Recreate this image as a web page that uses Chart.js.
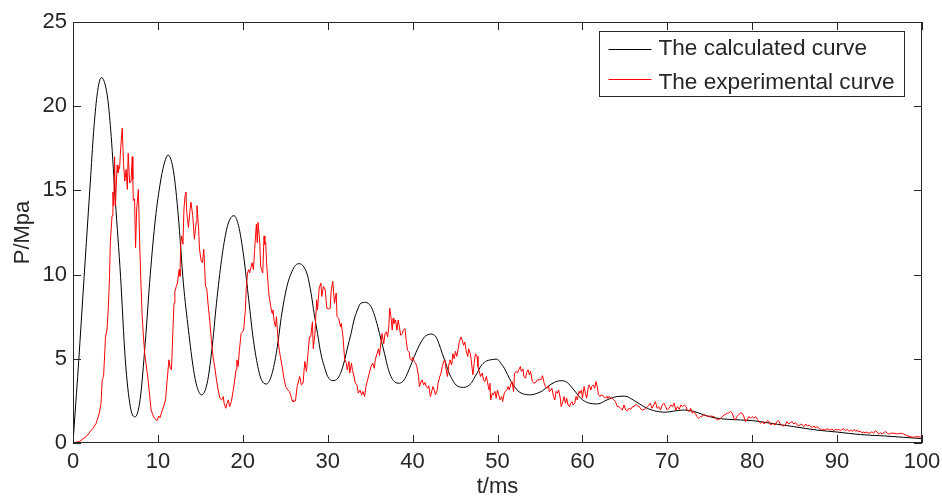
<!DOCTYPE html>
<html lang="en">
<head>
  <meta charset="UTF-8">
  <title>P/Mpa - t/ms</title>
  <script src="https://cdn.jsdelivr.net/npm/chart.js"></script>
  <style>
    body {
      margin: 0;
      background: #fff;
    }
    #wrap {
      width: 942px;
      height: 498px;
    }
  </style>
</head>
<body>
  <div id="wrap"><canvas id="pressureChart" width="942" height="498"></canvas></div>

  <script>
    const seriesNames = ['The calculated curve', 'The experimental curve'];

    // calculated pressure (smooth damped oscillation)
    const calcTime = [
      0, 0.27, 0.55, 1.06, 1.57, 2.04, 2.43, 2.82, 3.1, 3.35,
      3.65, 4.1, 4.5, 5.0, 5.6, 6.16, 6.75, 7.3, 7.9, 8.5,
      9.1, 9.7, 10.3, 10.7, 11.2, 11.85, 12.4, 13.0, 13.6, 14.2,
      14.6, 15.15, 15.8, 16.35, 16.9, 17.5, 18.1, 18.5, 18.95, 19.5,
      20.1, 20.7, 21.25, 21.85, 22.2, 22.75, 23.4, 24.0, 24.6, 25.2,
      25.8, 26.2, 26.65, 27.2, 27.65, 28.04, 28.4, 28.8, 29.2, 29.6,
      30.0, 30.6, 31.2, 31.6, 32.0, 32.35, 32.75, 33.1, 33.5, 33.9,
      34.45, 35.1, 35.5, 35.9, 36.3, 36.7, 37.05, 37.45, 37.85, 38.45,
      39.0, 39.4, 39.8, 40.2, 40.6, 41.0, 41.4, 41.8, 42.2, 42.75,
      43.1, 43.5, 43.9, 44.3, 44.7, 45.1, 46.0, 46.9, 47.25, 47.65,
      48.0, 48.6, 49.2, 49.9, 50.4, 50.8, 51.2, 51.6, 52.0, 52.4,
      52.9, 53.9, 54.7, 55.3, 55.9, 56.7, 57.5, 58.2, 59.0, 59.8,
      60.6, 61.8, 62.9, 64.1, 65.0, 66.1, 67.25, 68.4, 69.8, 70.8,
      71.9, 73.1, 74.3, 75.5, 77.3, 80, 82.2, 84.9, 87.6, 90,
      92.75, 95.5, 97.8, 100
    ];
    const calcPressure = [
      0, 1.96, 3.95, 7.9, 11.9, 15.5, 18.5, 20.6, 21.45, 21.7,
      21.5, 20.4, 18.2, 14.3, 9.9, 4.94, 2.16, 1.55, 2.56, 5.9,
      10.0, 13.3, 15.5, 16.5, 17.1, 16.1, 13.5, 9.5, 6.7, 4.35,
      3.35, 2.86, 3.55, 5.5, 8.3, 10.9, 12.7, 13.3, 13.5, 12.9,
      11.1, 8.5, 6.1, 4.35, 3.75, 3.5, 4.05, 5.5, 7.7, 9.3,
      10.2, 10.55, 10.65, 10.45, 9.9, 8.9, 7.7, 6.5, 5.3, 4.54,
      3.95, 3.7, 3.85, 4.25, 4.94, 5.7, 6.5, 7.3, 7.9, 8.3,
      8.35, 8.1, 7.6, 6.9, 6.1, 5.3, 4.54, 3.95, 3.65, 3.55,
      3.75, 4.15, 4.64, 5.14, 5.6, 6.0, 6.3, 6.43, 6.47, 6.3,
      5.9, 5.3, 4.74, 4.15, 3.75, 3.45, 3.3, 3.55, 3.85, 4.2,
      4.54, 4.84, 4.94, 4.98, 4.74, 4.44, 4.05, 3.65, 3.35, 3.1,
      2.94, 2.86, 2.96, 3.1, 3.35, 3.6, 3.7, 3.6, 3.15, 2.66,
      2.4, 2.32, 2.56, 2.76, 2.78, 2.52, 2.16, 1.92, 1.83, 1.9,
      1.96, 1.88, 1.67, 1.5, 1.4, 1.33, 1.17, 0.97, 0.77, 0.65,
      0.5, 0.42, 0.34, 0.26
    ];

    // measured pressure (noisy)
    const expTime = [
      0, 0.8, 1.55, 2.34, 2.73, 3.1, 3.3, 3.44, 3.6, 3.83, 4.0, 4.15, 4.3, 4.4, 4.6, 4.7, 4.8, 4.9, 5.0, 5.2,
      5.3, 5.5, 5.6, 5.8, 5.95, 6.1, 6.25, 6.4, 6.5, 6.67, 6.83, 6.98, 7.05, 7.1, 7.25, 7.37, 7.5, 7.7, 7.85, 8.0,
      8.15, 8.3, 8.45, 8.6, 8.8, 9.0, 9.2, 9.4, 9.6, 9.9,
      10.1, 10.25, 10.4, 10.7, 10.9, 11.06, 11.3, 11.46, 11.6, 11.77, 11.9, 12.0, 12.17, 12.3, 12.5, 12.6, 12.7, 12.8, 12.95, 13.07,
      13.2, 13.3, 13.4, 13.6, 13.8, 13.9, 14.1, 14.3, 14.5, 14.6, 14.8, 14.9, 15.1, 15.25, 15.4, 15.5, 15.6, 15.75, 15.9, 16.1,
      16.3, 16.5, 16.7, 16.9, 17.1, 17.3, 17.5, 17.7, 17.8, 18.0,
      18.15, 18.3, 18.45, 18.65, 18.85, 19.0, 19.2, 19.3, 19.45, 19.6, 19.8, 19.95, 20.1, 20.3, 20.4, 20.55, 20.7, 20.8, 21.0, 21.1,
      21.25, 21.4, 21.5, 21.6, 21.7, 21.8, 22.0, 22.1, 22.2, 22.35, 22.5, 22.6, 22.7, 22.8, 23.0, 23.1, 23.3, 23.45, 23.55, 23.7,
      23.85, 23.96, 24.1, 24.2, 24.3, 24.4, 24.7, 24.8, 25.05, 25.3, 25.5, 25.8, 25.9,
      26.2, 26.4, 26.7, 26.9, 27.1, 27.3, 27.5, 27.7, 27.85, 28.0, 28.2, 28.3, 28.5, 28.7, 28.8, 29.0, 29.2, 29.3, 29.5, 29.7,
      29.9, 30.1, 30.3, 30.4, 30.6, 30.8, 31.0, 31.1, 31.3, 31.5, 31.6, 31.8, 32.0, 32.2, 32.3, 32.5, 32.6, 32.8, 32.9, 33.1,
      33.25, 33.45, 33.6, 33.8, 34.0, 34.15, 34.35, 34.5, 34.7, 34.9,
      35.1, 35.3, 35.5, 35.6, 35.8, 36.0, 36.1, 36.3, 36.4, 36.6, 36.75, 36.9, 37.05, 37.2, 37.3, 37.45, 37.6, 37.7, 37.8, 38.0,
      38.15, 38.3, 38.5, 38.6, 38.8, 38.9, 39.1, 39.25, 39.4, 39.6, 39.7, 39.9, 40.0, 40.2, 40.35, 40.5, 40.7, 40.8, 41.0, 41.1,
      41.3, 41.45, 41.6, 41.8, 41.9, 42.1, 42.2, 42.4, 42.55, 42.7,
      42.9, 43.0, 43.2, 43.3, 43.5, 43.65, 43.8, 43.95, 44.1, 44.3, 44.4, 44.6, 44.75, 44.9, 45.05, 45.2, 45.4, 45.5, 45.7, 45.85,
      46.0, 46.15, 46.3, 46.5, 46.6, 46.8, 46.9, 47.1, 47.25, 47.4, 47.6, 47.7, 47.9, 48.0, 48.2, 48.35, 48.5, 48.7, 48.8, 49.0,
      49.1, 49.2, 49.4, 49.5, 49.7, 49.85, 50.0, 50.15, 50.3, 50.5,
      50.6, 50.8, 50.9, 51.1, 51.25, 51.4, 51.6, 51.7, 51.9, 52.0, 52.2, 52.35, 52.5, 52.7, 52.8, 53.0, 53.1, 53.3, 53.45, 53.6,
      53.75, 53.9, 54.1, 54.3, 54.5, 54.7, 55.0, 55.2, 55.3, 55.5, 55.65, 55.8, 56.0, 56.1, 56.3, 56.4, 56.6, 56.75, 56.9, 57.05,
      57.2, 57.4, 57.5, 57.7, 57.85, 58.0, 58.15, 58.3, 58.5, 58.6,
      58.8, 58.9, 59.1, 59.25, 59.4, 59.6, 59.7, 59.9, 60.0, 60.2, 60.35, 60.5, 60.7, 60.8, 61.0, 61.1, 61.3, 61.45, 61.6, 61.75,
      61.9, 62.1, 62.2, 62.4, 62.55, 62.7, 62.9, 63.0, 63.2, 63.3, 63.5, 63.7, 63.9, 64.1, 64.3, 64.5, 64.7, 64.9, 65.1, 65.3,
      65.5, 65.7, 65.9, 66.1, 66.3, 66.5, 66.7, 66.9, 67.1, 67.3,
      67.45, 67.65, 67.85, 68.0, 68.2, 68.4, 68.6, 68.8, 69.0, 69.2, 69.4, 69.6, 69.8, 70.0, 70.2, 70.4, 70.6, 70.8, 71.0, 71.2,
      71.4, 71.6, 71.8, 72.0, 72.2, 72.35, 72.55, 72.75, 72.95, 73.1, 73.3, 73.5, 73.7, 73.9, 74.1, 74.3, 74.5, 74.7, 74.9, 75.1,
      75.5, 75.9, 76.3, 76.7, 77.1, 77.25, 77.45, 77.65, 77.85, 78.0,
      78.2, 78.4, 78.6, 78.8, 79.0, 79.2, 79.4, 79.6, 79.8, 80.0, 80.2, 80.4, 80.6, 80.8, 81.0, 81.2, 81.4, 81.6, 81.8, 82.0,
      82.2, 82.4, 82.5, 82.7, 82.9, 83.1, 83.3, 83.5, 83.7, 83.9, 84.1, 84.3, 84.5, 84.7, 84.9, 85.1, 85.3, 85.5, 85.7, 85.9,
      86.1, 86.3, 86.5, 86.7, 86.9, 87.1, 87.3, 87.45, 87.65, 87.85,
      88.05, 88.2, 88.4, 88.6, 88.8, 89.0, 89.2, 89.4, 89.6, 89.8, 90.0, 90.2, 90.4, 90.6, 90.8, 91.0, 91.2, 91.4, 91.6, 91.8,
      92.0, 92.2, 92.4, 92.55, 92.75, 92.9, 93.1, 93.3, 93.5, 93.7, 93.9, 94.1, 94.3, 94.5, 94.7, 94.9, 95.1, 95.3, 95.5, 95.7,
      95.9, 96.1, 96.3, 96.7, 97.1, 97.5, 97.8, 98.2, 98.6, 99.0, 99.4, 100
    ];
    const expPressure = [
      0, 0.1, 0.38, 0.87, 1.17, 1.77, 2.36, 3.75, 3.95, 6.3, 6.7, 7.9, 9.9, 11.9, 13.5, 14.9, 14.1, 17.0, 14.1, 16.5,
      16.05, 16.4, 17.4, 18.7, 16.6, 15.55, 16.25, 15.06, 17.2, 15.45, 15.5, 17.0, 15.65, 14.4, 14.5, 11.6, 13.9, 15.06, 11.9, 9.5,
      7.5, 6.3, 5.3, 4.7, 3.95, 2.96, 1.96, 1.67, 1.47, 1.33,
      1.6, 1.5, 1.77, 2.2, 2.56, 3.55, 4.94, 4.44, 4.35, 6.7, 8.3, 9.0, 9.3, 9.5, 10.3, 9.9, 11.9, 12.3, 11.8, 13.9,
      14.7, 14.9, 13.7, 12.8, 13.9, 14.3, 13.5, 12.1, 13.1, 14.1, 12.7, 11.5, 10.8, 10.7, 11.5, 10.5, 9.3, 9.2, 8.3, 7.3,
      6.1, 5.1, 4.5, 3.75, 3.15, 2.66, 2.56, 2.76, 2.36, 2.06,
      2.36, 2.56, 2.16, 2.46, 3.06, 3.55, 4.35, 4.94, 4.54, 5.5, 6.5, 6.6, 6.7, 7.9, 9.1, 10.1, 10.3, 10.1, 10.5, 10.7,
      10.3, 11.5, 12.3, 13.0, 11.9, 13.1, 11.9, 10.5, 10.3, 10.1, 12.3, 11.8, 11.9, 10.7, 9.3, 8.7, 8.1, 7.7, 7.9, 7.2,
      6.9, 7.5, 6.5, 5.9, 5.5, 5.2, 4.35, 3.95, 3.35, 3.15, 3.06, 2.56, 2.46,
      2.5, 3.35, 3.95, 3.45, 3.55, 4.84, 4.25, 5.44, 6.3, 6.3, 7.2, 5.6, 6.5, 8.5, 7.9, 9.2, 9.5, 8.7, 9.3, 9.1,
      8.0, 7.96, 8.0, 9.0, 9.6, 8.3, 8.9, 7.5, 7.4, 6.9, 7.1, 6.3, 4.94, 4.74, 4.35, 4.84, 4.15, 4.74, 4.35, 3.95,
      3.55, 3.45, 2.96, 3.15, 2.86, 3.06, 2.76, 3.35, 3.75, 4.15,
      4.54, 4.74, 4.44, 4.94, 5.3, 5.6, 5.2, 6.1, 6.5, 5.9, 6.5, 6.6, 6.3, 6.9, 8.0, 7.5, 6.7, 7.4, 7.1, 7.3,
      6.7, 7.3, 6.7, 6.4, 6.5, 6.7, 6.8, 6.1, 5.5, 5.4, 5.0, 4.9, 5.1, 4.84, 4.74, 4.54, 3.95, 3.35, 3.65, 3.75,
      3.45, 3.6, 3.35, 3.25, 3.4, 2.76, 2.96, 3.35, 3.15, 2.86,
      3.15, 3.55, 3.95, 4.05, 4.54, 4.84, 4.94, 4.35, 3.95, 4.74, 4.94, 4.64, 5.3, 5.0, 5.44, 5.14, 5.7, 6.0, 6.3, 6.1,
      5.8, 6.0, 5.5, 5.14, 5.6, 5.3, 4.94, 4.05, 4.74, 5.3, 5.14, 4.54, 4.15, 3.95, 4.15, 3.75, 3.65, 3.95, 3.65, 3.15,
      3.55, 2.56, 2.96, 2.86, 3.06, 2.66, 3.15, 2.86, 2.56, 2.76,
      2.46, 2.96, 3.06, 3.15, 3.35, 3.15, 3.55, 3.65, 3.06, 4.15, 4.25, 4.15, 4.35, 4.54, 4.25, 4.4, 3.95, 3.85, 4.2, 4.35,
      4.05, 4.25, 3.65, 3.55, 3.6, 3.75, 3.75, 3.8, 4.0, 3.55, 3.35, 3.25, 3.4, 3.05, 3.15, 3.25, 2.76, 2.56, 3.06, 2.96,
      3.15, 2.66, 2.16, 2.46, 2.76, 2.36, 2.66, 2.26, 2.16, 2.36,
      2.46, 2.26, 2.36, 2.76, 2.56, 3.06, 2.96, 3.15, 2.66, 3.35, 2.96, 2.66, 3.35, 3.45, 3.15, 3.35, 3.45, 3.25, 3.65, 3.35,
      2.86, 2.76, 2.86, 2.8, 2.76, 2.66, 2.76, 2.66, 2.76, 2.66, 2.66, 2.56, 2.46, 2.16, 2.16, 2.06, 1.96, 2.26, 1.96, 1.92,
      2.06, 2.0, 2.16, 2.16, 2.3, 2.2, 2.16, 2.0, 1.96, 2.0,
      2.06, 2.16, 2.26, 2.36, 2.06, 2.26, 2.46, 2.06, 2.16, 1.96, 2.26, 2.36, 2.16, 1.96, 2.06, 2.26, 2.16, 2.36, 1.96, 2.16,
      2.0, 2.26, 2.16, 2.26, 2.16, 1.96, 1.86, 2.06, 1.76, 1.86, 1.76, 1.56, 1.46, 1.56, 1.6, 1.66, 1.66, 1.56, 1.6, 1.6,
      1.57, 1.37, 1.47, 1.67, 1.77, 1.8, 1.87, 1.77, 1.47, 1.37,
      1.57, 1.67, 1.77, 1.77, 1.6, 1.27, 1.37, 1.57, 1.47, 1.57, 1.47, 1.57, 1.41, 1.27, 1.17, 1.27, 1.13, 1.21, 1.33, 1.27,
      1.07, 1.17, 1.13, 1.07, 1.27, 1.33, 1.13, 1.07, 1.01, 1.07, 1.27, 1.13, 1.21, 1.27, 1.13, 1.21, 1.07, 1.01, 1.13, 1.07,
      0.97, 1.13, 1.01, 1.07, 0.97, 0.93, 1.01, 0.89, 0.97, 0.89,
      0.81, 0.77, 0.81, 0.77, 0.85, 0.81, 0.77, 0.83, 0.73, 0.81, 0.77, 0.81, 0.73, 0.81, 0.85, 0.73, 0.81, 0.69, 0.77, 0.69,
      0.81, 0.69, 0.77, 0.65, 0.71, 0.61, 0.65, 0.61, 0.65, 0.58, 0.61, 0.67, 0.58, 0.73, 0.65, 0.54, 0.61, 0.54, 0.61, 0.69,
      0.58, 0.52, 0.58, 0.58, 0.54, 0.58, 0.54, 0.44, 0.38, 0.34, 0.38, 0.34
    ];

    const xTicks = [0, 10, 20, 30, 40, 50, 60, 70, 80, 90, 100];
    const yTicks = [0, 5, 10, 15, 20, 25];

    const axisColor = '#262626';
    const fontFamily = '"Liberation Sans", Arial, Helvetica, sans-serif';
    const fontSize = 22;

    function toPoints(ts, ps) {
      return ts.map((t, i) => ({ x: t, y: ps[i] }));
    }

    // closed box around the plot, ticks pointing inwards, legend in the top right corner
    const boxAxes = {
      id: 'boxAxes',
      afterDraw(chart) {
        const { ctx, chartArea: a, scales: { x, y } } = chart;
        const tick = 8;
        ctx.save();
        ctx.strokeStyle = axisColor;
        ctx.lineWidth = 1;
        ctx.strokeRect(a.left + 0.5, a.top + 0.5, a.right - a.left - 1, a.bottom - a.top - 1);

        ctx.beginPath();
        xTicks.forEach(v => {
          const px = Math.round(x.getPixelForValue(v)) + 0.5;
          ctx.moveTo(px, a.bottom);
          ctx.lineTo(px, a.bottom - tick);
          ctx.moveTo(px, a.top);
          ctx.lineTo(px, a.top + tick);
        });
        yTicks.forEach(v => {
          const py = Math.round(y.getPixelForValue(v)) + 0.5;
          ctx.moveTo(a.left, py);
          ctx.lineTo(a.left + tick, py);
          ctx.moveTo(a.right, py);
          ctx.lineTo(a.right - tick, py);
        });
        ctx.stroke();

        // legend
        const boxW = 305, boxH = 65;
        const bx = Math.round(a.right - 18 - boxW) + 0.5;
        const by = Math.round(a.top + 9) + 0.5;
        ctx.fillStyle = '#fff';
        ctx.fillRect(bx, by, boxW, boxH);
        ctx.strokeStyle = axisColor;
        ctx.strokeRect(bx, by, boxW, boxH);

        const colors = chart.data.datasets.map(d => d.borderColor);
        const textRows = [by + 17.5, by + 51];
        const lineRows = [by + 17, by + 47];
        ctx.font = '22.6px ' + fontFamily;
        ctx.textBaseline = 'middle';
        seriesNames.forEach((name, i) => {
          ctx.strokeStyle = colors[i];
          ctx.beginPath();
          ctx.moveTo(bx + 9, Math.round(lineRows[i]) + 0.5);
          ctx.lineTo(bx + 52, Math.round(lineRows[i]) + 0.5);
          ctx.stroke();
          ctx.fillStyle = axisColor;
          ctx.fillText(name, bx + 59, textRows[i]);
        });
        ctx.restore();
      }
    };

    new Chart(document.getElementById('pressureChart'), {
      type: 'line',
      data: {
        datasets: [
          {
            label: seriesNames[0],
            data: toPoints(calcTime, calcPressure),
            borderColor: '#000000',
            borderWidth: 1,
            cubicInterpolationMode: 'monotone',
            order: 2
          },
          {
            label: seriesNames[1],
            data: toPoints(expTime, expPressure),
            borderColor: '#ff0000',
            borderWidth: 1,
            tension: 0,
            order: 1
          }
        ]
      },
      options: {
        responsive: false,
        animation: false,
        devicePixelRatio: 1,
        layout: { padding: { top: 22, right: 20, left: 0, bottom: 0 } },
        elements: { point: { radius: 0 } },
        plugins: {
          legend: { display: false },
          tooltip: { enabled: false }
        },
        scales: {
          x: {
            type: 'linear',
            min: 0,
            max: 100,
            afterBuildTicks: s => { s.ticks = xTicks.map(v => ({ value: v })); },
            // the last label may hang past the plot edge, as in the original figure
            afterFit: s => { s.height = 55; s.paddingRight = 0; s.paddingLeft = 0; },
            grid: { display: false, drawTicks: false },
            border: { display: false },
            ticks: {
              color: axisColor,
              padding: 6,
              maxRotation: 0,
              autoSkip: false,
              font: { family: fontFamily, size: fontSize }
            },
            title: {
              display: true,
              text: 't/ms',
              color: axisColor,
              padding: { top: 0, bottom: 0 },
              font: { family: fontFamily, size: fontSize, lineHeight: 1 }
            }
          },
          y: {
            min: 0,
            max: 25,
            afterBuildTicks: s => { s.ticks = yTicks.map(v => ({ value: v })); },
            afterFit: s => { s.width = 73; s.paddingTop = 0; s.paddingBottom = 0; },
            grid: { display: false, drawTicks: false },
            border: { display: false },
            ticks: {
              color: axisColor,
              padding: 6,
              font: { family: fontFamily, size: fontSize }
            },
            title: {
              display: true,
              text: 'P/Mpa',
              color: axisColor,
              padding: { top: 12, bottom: 0 },
              font: { family: fontFamily, size: fontSize, lineHeight: 1 }
            }
          }
        }
      },
      plugins: [boxAxes]
    });
  </script>
</body>
</html>
